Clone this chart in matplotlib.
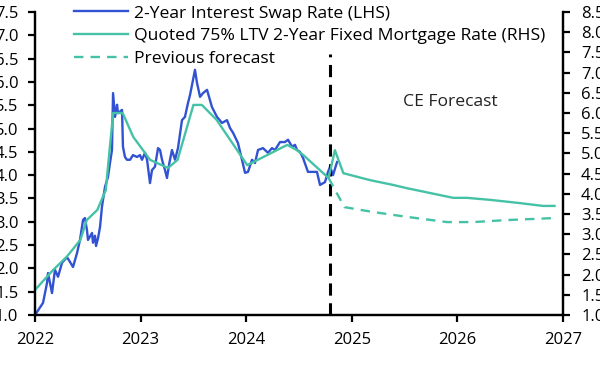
import matplotlib.pyplot as plt
from matplotlib.ticker import FormatStrFormatter, MultipleLocator

plt.rcParams['font.family'] = ['Open Sans', 'DejaVu Sans']
plt.rcParams['font.size'] = 12

# 2-year swap rate (LHS), decimal years
swap_dates = [2022.000, 2022.076, 2022.114, 2022.123, 2022.142, 2022.161, 2022.189, 2022.218,
              2022.256, 2022.303, 2022.331, 2022.360, 2022.398, 2022.426, 2022.455, 2022.473,
              2022.492, 2022.502, 2022.540, 2022.549, 2022.568, 2022.578, 2022.597, 2022.616,
              2022.634, 2022.663, 2022.691, 2022.710, 2022.729, 2022.739, 2022.758, 2022.777,
              2022.786, 2022.824, 2022.833, 2022.852, 2022.871, 2022.900, 2022.928, 2022.966,
              2022.994, 2023.013, 2023.042, 2023.061, 2023.089, 2023.108, 2023.136, 2023.165,
              2023.184, 2023.203, 2023.231, 2023.250, 2023.269, 2023.297, 2023.326, 2023.354,
              2023.392, 2023.420, 2023.449, 2023.468, 2023.496, 2023.515, 2023.534, 2023.563,
              2023.591, 2023.629, 2023.657, 2023.676, 2023.723, 2023.771, 2023.818, 2023.847,
              2023.875, 2023.922, 2023.960, 2023.989, 2024.017, 2024.055, 2024.083, 2024.112,
              2024.159, 2024.206, 2024.244, 2024.273, 2024.320, 2024.367, 2024.396, 2024.434,
              2024.462, 2024.481, 2024.509, 2024.538, 2024.585, 2024.623, 2024.670, 2024.699,
              2024.746, 2024.775, 2024.794, 2024.822, 2024.860]
swap_rate = [1.00, 1.26, 1.69, 1.90, 1.69, 1.47, 1.97, 1.82,
             2.12, 2.24, 2.14, 2.03, 2.33, 2.61, 3.04, 3.08,
             2.82, 2.61, 2.76, 2.55, 2.70, 2.48, 2.65, 2.89,
             3.32, 3.75, 3.96, 4.26, 4.54, 5.76, 5.25, 5.51,
             5.33, 5.40, 4.61, 4.39, 4.33, 4.33, 4.43, 4.39,
             4.43, 4.33, 4.48, 4.33, 3.83, 4.11, 4.18, 4.58,
             4.54, 4.33, 4.11, 3.94, 4.22, 4.54, 4.33, 4.58,
             5.18, 5.25, 5.55, 5.72, 6.04, 6.26, 5.98, 5.68,
             5.76, 5.83, 5.61, 5.46, 5.25, 5.12, 5.18, 5.01,
             4.91, 4.69, 4.33, 4.05, 4.07, 4.33, 4.26, 4.54,
             4.58, 4.48, 4.58, 4.54, 4.71, 4.71, 4.76, 4.61,
             4.65, 4.54, 4.50, 4.37, 4.07, 4.07, 4.07, 3.79,
             3.85, 4.07, 4.18, 4.00, 4.28]

# quoted 75% LTV 2-year fixed mortgage rate (RHS), actual + CE forecast
mort_dates = [2022.00, 2022.17, 2022.30, 2022.43, 2022.49, 2022.59, 2022.67, 2022.74,
              2022.83, 2022.93, 2023.09, 2023.26, 2023.35, 2023.50, 2023.58, 2023.72,
              2024.01, 2024.20, 2024.35, 2024.39, 2024.48, 2024.54, 2024.78, 2024.84,
              2024.92, 2025.17, 2025.39, 2025.52, 2025.96, 2026.09, 2026.31, 2026.59,
              2026.81, 2026.92]
mort_rate = [1.62, 2.11, 2.44, 2.86, 3.35, 3.60, 4.09, 6.00,
             6.00, 5.41, 4.84, 4.64, 4.84, 6.20, 6.20, 5.83,
             4.71, 4.96, 5.16, 5.21, 5.08, 4.96, 4.39, 5.08,
             4.51, 4.34, 4.22, 4.14, 3.90, 3.90, 3.85, 3.77,
             3.70, 3.70]

# previous forecast (RHS)
prev_dates = [2024.78, 2024.93, 2025.20, 2025.52, 2025.90, 2026.15, 2026.47, 2026.92]
prev_rate = [4.39, 3.67, 3.55, 3.43, 3.30, 3.30, 3.35, 3.40]

forecast_start = 2024.79
years = [2022, 2023, 2024, 2025, 2026, 2027]

blue = '#3152d2'
teal = '#45c2a6'

fig = plt.figure(figsize=(6, 3.7), dpi=100)
ax = fig.add_axes([35 / 600, 55 / 370, 528 / 600, 303 / 370])
ax2 = ax.twinx()

l1, = ax.plot(swap_dates, swap_rate, color=blue, lw=1.7, label='2-Year Interest Swap Rate (LHS)')
l2, = ax2.plot(mort_dates, mort_rate, color=teal, lw=1.7,
               label='Quoted 75% LTV 2-Year Fixed Mortgage Rate (RHS)')
l3, = ax2.plot(prev_dates, prev_rate, color=teal, lw=1.7, ls=(0, (4, 3)), label='Previous forecast')
ax.axvline(forecast_start, ymax=0.86, color='black', lw=2.2, ls=(0, (4, 2.5)))

ax.set_xlim(2022, 2027)
ax.set_xticks(years)
ax.set_xticklabels([str(y) for y in years])
ax.set_ylim(1.0, 7.5)
ax.yaxis.set_major_locator(MultipleLocator(0.5))
ax.yaxis.set_major_formatter(FormatStrFormatter('%.1f'))
ax2.set_ylim(1.0, 8.5)
ax2.yaxis.set_major_locator(MultipleLocator(0.5))
ax2.yaxis.set_major_formatter(FormatStrFormatter('%.1f'))

for a in (ax, ax2):
    a.spines['top'].set_visible(False)
    for s in a.spines.values():
        s.set_linewidth(1.6)
    a.tick_params(width=1.6, length=5, color='black', labelsize=12)
ax.tick_params(axis='x', pad=7)
ax.tick_params(axis='y', pad=7)
ax2.tick_params(axis='y', pad=8)

ax.text(2025.93, 5.57, 'CE Forecast', fontsize=12.6, ha='center', va='center', color='#222222')

ax2.legend(handles=[l1, l2, l3], loc='upper left', bbox_to_anchor=(0.074, 1.022),
           frameon=False, borderpad=0, borderaxespad=0, handlelength=3.1,
           handletextpad=0.35, labelspacing=0.36, fontsize=12.6)

fig.savefig('out.png', dpi=100)
